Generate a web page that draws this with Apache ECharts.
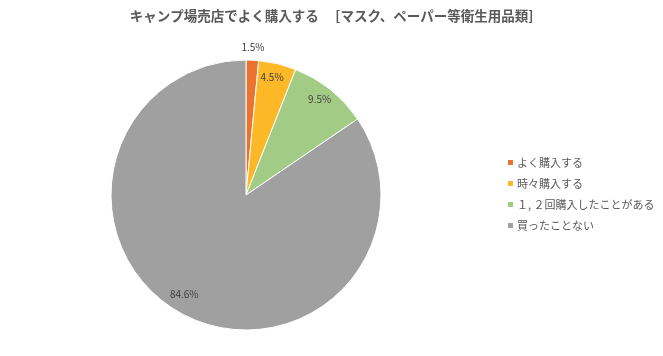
<!DOCTYPE html>
<html><head><meta charset="utf-8">
<script src="https://cdn.jsdelivr.net/npm/echarts@6/dist/echarts.min.js"></script>
<style>html,body{margin:0;padding:0;background:#fff}#c{width:663px;height:356px}</style>
</head><body><div id="c"></div>
<script>
const categories = ['よく購入する', '時々購入する', '１, ２回購入したことがある', '買ったことない'];
const values = [1.5, 4.5, 9.5, 84.6];
const colors = ['#EA7330', '#FDB827', '#A2CB86', '#A0A0A0'];
const titleText = 'キャンプ場売店でよく購入する　 [マスク、ペーパー等衛生用品類]';

const font = '"Noto Sans CJK JP", "Noto Sans", sans-serif';
const center = [246, 195];
const R = 135;
const mainData = categories.map((n, i) => ({ name: n, value: values[i], itemStyle: { color: colors[i] } }));
const labelFmt = p => p.value + '%';
const labelStyle = { color: '#404040', fontSize: 10, fontFamily: font, formatter: labelFmt };
const onlyLabels = idx => categories.map((n, i) => ({ name: n, value: values[i], label: { show: idx.includes(i) } }));
const transparent = { color: 'rgba(0,0,0,0)', borderWidth: 0 };
const overlay = (radius, startAngle, idx) => ({
  type: 'pie', center, radius, startAngle, silent: true, data: onlyLabels(idx),
  itemStyle: transparent, label: Object.assign({ position: 'inside' }, labelStyle),
  labelLine: { show: false }, emphasis: { disabled: true }, legendHoverLink: false
});

const chart = echarts.init(document.getElementById('c'));
chart.setOption({
  animation: false,
  title: { text: titleText, left: 'center', top: 4, textStyle: { fontSize: 13.5, fontWeight: 'bold', color: '#595959', fontFamily: font } },
  legend: {
    orient: 'vertical', left: 501, top: 152, itemWidth: 7, itemHeight: 7, itemGap: 10, icon: 'rect',
    data: categories,
    textStyle: { fontSize: 11, color: '#595959', fontFamily: font, padding: [0, 0, 0, -2] }
  },
  series: [
    { type: 'pie', center, radius: [0, R], startAngle: 90, clockwise: true, data: mainData,
      label: { show: false }, labelLine: { show: false }, itemStyle: { borderColor: '#fff', borderWidth: 1 }, emphasis: { disabled: true } },
    overlay([100, R], 91, [1, 2]),
    overlay([0, 290], 90, [0]),
    overlay([93, R], 86, [3])
  ]
});
</script></body></html>
